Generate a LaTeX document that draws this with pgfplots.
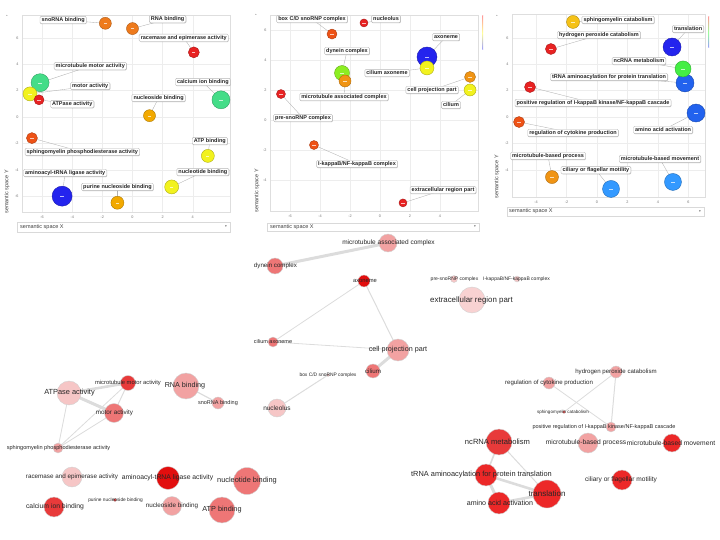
\documentclass[border=0pt]{standalone}
\usepackage{pgfplots}
\pgfplotsset{compat=1.18}
\usepackage{fontspec}
\setmainfont{Liberation Sans}
\newfontfamily\djv{DejaVu Sans}
\usetikzlibrary{shadows}

% bubble colours (top panels)
\definecolor{bOrange}{HTML}{EE7A1C}
\definecolor{bRed}{HTML}{E82222}
\definecolor{bGreen}{HTML}{44DD88}
\definecolor{bYellow}{HTML}{F2F21E}
\definecolor{bAmber}{HTML}{F2A900}
\definecolor{bOrRed}{HTML}{EE5216}
\definecolor{bBlue}{HTML}{2424EE}
\definecolor{bLime}{HTML}{8CEE22}
\definecolor{bOrange2}{HTML}{F09414}
\definecolor{bGreen2}{HTML}{44EE44}
\definecolor{bBlue2}{HTML}{2262EE}
\definecolor{bSky}{HTML}{3399FF}
\definecolor{bGold}{HTML}{F5C218}
% network colours
\definecolor{nLight}{HTML}{F6C6C6}
\definecolor{nVLight}{HTML}{F8D2D2}
\definecolor{nPink}{HTML}{F2A2A2}
\definecolor{nSalmon}{HTML}{EE7676}
\definecolor{nRed}{HTML}{E83A3A}
\definecolor{nDeep}{HTML}{E20E0E}
\definecolor{nRed2}{HTML}{EC2828}
\definecolor{edgegray}{HTML}{DCDCDC}

\pgfplotsset{rev/.style={scale only axis, anchor=north west, clip=false,
  axis line style={draw=black!13, line width=0.5pt},
  grid=major, major grid style={draw=black!7, line width=0.4pt},
  major tick length=0pt, tick style={draw=none},
  ticklabel style={font=\fontsize{3.8}{4}\selectfont, text=black!55},
  /pgf/number format/assume math mode=true},
  canvas/.style={at={(0pt,0pt)}, anchor=north west, scale only axis, width=720pt, height=540pt,
  xmin=0, xmax=720, ymin=-540, ymax=0, hide axis, clip=false},
  p1/.style={at={(22pt,-15pt)}, width=208pt, height=197pt, xmin=-7.33, xmax=6.47, ymin=-7.2, ymax=7.73},
  p2/.style={at={(270pt,-15pt)}, width=208pt, height=196pt, xmin=-7.33, xmax=6.53, ymin=-6.07, ymax=7.0},
  p3/.style={at={(512pt,-14pt)}, width=193pt, height=183pt, xmin=-5.57, xmax=7.08, ymin=-6.06, ymax=7.8},
  over/.style={scale only axis, anchor=north west, clip=false, hide axis}}

\tikzset{lbl/.style={draw=black!28, fill=white, rounded corners=1.2pt,
  inner xsep=1.6pt, inner ysep=1.1pt, text height=4.1pt, text depth=1.1pt,
  font=\fontsize{5.5}{6}\selectfont\bfseries, text=black!85, line width=0.4pt,
  drop shadow={shadow xshift=0.4pt, shadow yshift=-0.5pt, opacity=0.25, fill=black}}}

% bubble: x, y, radius, colour
\newcommand{\bub}[4]{%
  \addplot[only marks, mark=*, mark size=#3, mark options={fill=#4, draw=#4!72!black, line width=0.4pt}] coordinates {(#1,#2)};
  \addplot[only marks, mark=-, mark size=1.6, mark options={draw=white!70!#4, line width=0.3pt}] coordinates {(#1,#2)};}
% leader line: bubble x,y -> label x,y
\newcommand{\lead}[4]{\draw[black!30, line width=0.35pt] (axis cs:#1,#2) -- (axis cs:#3,#4);}
\newcommand{\lab}[3]{\node[lbl] at (axis cs:#1,#2) {#3};}

% network: px, py, radius, colour
\newcommand{\nnode}[4]{\addplot[only marks, mark=*, mark size=#3, mark options={fill=#4, draw=white!82!black, line width=0.4pt}] coordinates {(#1,-#2)};}
\newcommand{\nedge}[5]{\addplot[draw=edgegray, line width=#5pt, no marks] coordinates {(#1,-#2) (#3,-#4)};}
\newcommand{\nlab}[4]{\node[font=\fontsize{#4}{#4}\selectfont, text=black!85, inner sep=0pt] at (axis cs:#1,-#2) {#3};}

\begin{document}
\begin{tikzpicture}
\useasboundingbox (0,0) rectangle (720pt,-540pt);

% ---------------- canvas: networks (edges, nodes) + panel decorations ----------------
\begin{axis}[canvas]
\draw[black!15, fill=white, line width=0.4pt] (axis cs:17,-222) rectangle (axis cs:230,-232);
\node[anchor=west, font=\fontsize{5.5}{6}\selectfont, text=black!75, inner sep=0pt] at (axis cs:20,-227) {semantic space X};
\node[font=\djv\fontsize{3.5}{4}\selectfont, text=black!60, inner sep=0pt] at (axis cs:226,-227) {▾};
\node[rotate=90, font=\fontsize{5.5}{6}\selectfont, text=black!75, inner sep=0pt] at (axis cs:7,-192) {semantic space Y};
\draw[black!15, fill=white, line width=0.4pt] (axis cs:267,-223) rectangle (axis cs:479,-231);
\node[anchor=west, font=\fontsize{5.5}{6}\selectfont, text=black!75, inner sep=0pt] at (axis cs:270,-227) {semantic space X};
\node[font=\djv\fontsize{3.5}{4}\selectfont, text=black!60, inner sep=0pt] at (axis cs:475,-227) {▾};
\node[rotate=90, font=\fontsize{5.5}{6}\selectfont, text=black!75, inner sep=0pt] at (axis cs:257,-191) {semantic space Y};
\draw[black!15, fill=white, line width=0.4pt] (axis cs:507,-207) rectangle (axis cs:704,-216);
\node[anchor=west, font=\fontsize{5.5}{6}\selectfont, text=black!75, inner sep=0pt] at (axis cs:509,-211.5) {semantic space X};
\node[font=\djv\fontsize{3.5}{4}\selectfont, text=black!60, inner sep=0pt] at (axis cs:700,-211.5) {▾};
\node[rotate=90, font=\fontsize{5.5}{6}\selectfont, text=black!75, inner sep=0pt] at (axis cs:497,-177) {semantic space Y};
\node[font=\djv\fontsize{2.5}{3}\selectfont, text=black!50, inner sep=0pt] at (axis cs:7,-16) {▴};
\node[font=\djv\fontsize{2.5}{3}\selectfont, text=black!50, inner sep=0pt] at (axis cs:256,-15) {▴};
\node[font=\djv\fontsize{2.5}{3}\selectfont, text=black!50, inner sep=0pt] at (axis cs:497,-16) {▴};
\shade[top color=red!40, bottom color=blue!40, middle color=yellow!40] (axis cs:482.3,-16) rectangle (axis cs:483.1,-50);
\shade[top color=red!40, bottom color=blue!40, middle color=green!40] (axis cs:708.3,-17) rectangle (axis cs:709.1,-48);

% ---- network 1 (molecular function) ----
\nedge{69}{393}{128}{383}{2.6}
\nedge{69}{393}{114}{413}{3}
\nedge{128}{383}{114}{413}{1}
\nedge{69}{393}{58}{448}{0.8}
\nedge{114}{413}{58}{448}{0.8}
\nedge{128}{383}{58}{448}{0.8}
\nedge{186}{386}{218}{403}{1.2}
% ---- network 2 (cellular component) ----
\nedge{275}{266}{388}{243}{3}
\nedge{364}{281}{273}{342}{0.8}
\nedge{364}{281}{398}{350}{1}
\nedge{273}{342}{398}{350}{0.8}
\nedge{398}{350}{373}{371}{3}
\nedge{328}{375}{277}{408}{1}
% ---- network 3 (biological process) ----
\nedge{616}{372}{611}{427}{1}
\nedge{616}{372}{564}{412}{0.8}
\nedge{549}{383}{611}{427}{0.8}
\nedge{499}{442}{486}{475}{1.6}
\nedge{499}{442}{547}{494}{1}
\nedge{486}{475}{547}{494}{2.6}
\nedge{486}{475}{499}{503}{3}
\nedge{499}{503}{547}{494}{2.6}

% nodes network 1
\nnode{128}{383}{7.5}{nRed}
\nnode{69}{393}{12}{nLight}
\nnode{186}{386}{13}{nPink}
\nnode{218}{403}{6}{nPink}
\nnode{114}{413}{9.5}{nSalmon}
\nnode{58}{448}{5}{nPink}
\nnode{72}{477}{10}{nLight}
\nnode{168}{478}{11.5}{nDeep}
\nnode{247}{481}{13.5}{nSalmon}
\nnode{54}{507}{10}{nRed}
\nnode{115}{500}{1.8}{nRed}
\nnode{172}{506}{9.5}{nPink}
\nnode{222}{510}{13}{nSalmon}
% nodes network 2
\nnode{388}{243}{9}{nPink}
\nnode{275}{266}{8}{nSalmon}
\nnode{364}{281}{6}{nDeep}
\nnode{454}{279}{3.5}{nLight}
\nnode{517}{279}{3}{nLight}
\nnode{472}{300}{13}{nVLight}
\nnode{273}{342}{5}{nSalmon}
\nnode{398}{350}{11}{nPink}
\nnode{373}{371}{7}{nSalmon}
\nnode{328}{375}{1.5}{nPink}
\nnode{277}{408}{9}{nLight}
% nodes network 3
\nnode{616}{372}{6}{nPink}
\nnode{549}{383}{6}{nPink}
\nnode{564}{412}{1.6}{nRed}
\nnode{611}{427}{5}{nPink}
\nnode{499}{442}{13}{nRed}
\nnode{588}{443}{10}{nPink}
\nnode{672}{443}{9}{nRed2}
\nnode{486}{475}{11}{nRed2}
\nnode{622}{480}{10}{nRed2}
\nnode{547}{494}{14}{nRed2}
\nnode{499}{503}{11}{nRed2}
\end{axis}

% ---------------- canvas overlay: network labels ----------------
\begin{axis}[canvas]
\addplot[draw=none, no marks] coordinates {(0,0)};
% labels network 1
\nlab{128}{383}{microtubule motor activity}{5.8}
\nlab{69.5}{393}{ATPase activity}{7.4}
\nlab{185}{386}{RNA binding}{7.2}
\nlab{218}{403}{snoRNA binding}{5.5}
\nlab{114.5}{413}{motor activity}{6.3}
\nlab{58.5}{448}{sphingomyelin phosphodiesterase activity}{5.6}
\nlab{72}{477}{racemase and epimerase activity}{6.3}
\nlab{167.5}{478}{aminoacyl-tRNA ligase activity}{6.8}
\nlab{247}{481}{nucleotide binding}{7.4}
\nlab{55}{507}{calcium ion binding}{6.8}
\nlab{115.5}{500}{purine nucleoside binding}{4.8}
\nlab{172}{506}{nucleoside binding}{6.3}
\nlab{222}{510}{ATP binding}{7.3}
% labels network 2
\nlab{388.5}{243}{microtubule associated complex}{6.5}
\nlab{275.5}{266}{dynein complex}{6.2}
\nlab{365}{281}{axoneme}{5.8}
\nlab{454.5}{279}{pre-snoRNP complex}{5.0}
\nlab{516.5}{279}{I-kappaB/NF-kappaB complex}{5.0}
\nlab{471.5}{300}{extracellular region part}{7.9}
\nlab{273}{342}{cilium axoneme}{5.5}
\nlab{398}{350}{cell projection part}{7.2}
\nlab{373}{371}{cilium}{6.2}
\nlab{328}{375}{box C/D snoRNP complex}{4.9}
\nlab{277}{408}{nucleolus}{6.5}
% labels network 3
\nlab{616}{372}{hydrogen peroxide catabolism}{6.1}
\nlab{549}{383}{regulation of cytokine production}{6.1}
\nlab{563}{412}{sphingomyelin catabolism}{4.5}
\nlab{604}{427}{positive regulation of I-kappaB kinase/NF-kappaB cascade}{5.5}
\nlab{497.5}{442}{ncRNA metabolism}{7.6}
\nlab{586}{443}{microtubule-based process}{6.7}
\nlab{671}{443}{microtubule-based movement}{6.7}
\nlab{481.5}{475}{tRNA aminoacylation for protein translation}{7.4}
\nlab{621}{480}{ciliary or flagellar motility}{6.6}
\nlab{547}{494}{translation}{8.0}
\nlab{500}{503}{amino acid activation}{7.1}
\end{axis}

% ---------------- panel 1: molecular function ----------------
\begin{axis}[rev, p1, xtick={-6,-4,...,4}, ytick={-6,-4,...,6}]
\lead{-1.8}{7.1}{-4.6}{7.35}
\lead{0}{6.7}{2.33}{7.42}
\lead{4.07}{4.9}{3.4}{6.0}
\lead{-6.13}{2.6}{-2.8}{3.86}
\lead{-6.8}{1.75}{-2.8}{2.35}
\lead{-6.2}{1.3}{-4.0}{0.98}
\lead{5.87}{1.3}{4.67}{2.65}
\lead{1.13}{0.1}{1.73}{1.44}
\lead{-6.67}{-1.6}{-3.33}{-2.65}
\lead{5.0}{-2.95}{5.13}{-1.82}
\lead{-4.67}{-6.0}{-4.47}{-4.24}
\lead{2.6}{-5.3}{4.67}{-4.17}
\lead{-1.0}{-6.5}{-1.0}{-5.3}
\bub{-1.8}{7.1}{6}{bOrange}
\bub{0}{6.7}{6}{bOrange}
\bub{4.07}{4.9}{5.5}{bRed}
\bub{-6.13}{2.6}{9}{bGreen}
\bub{-6.8}{1.75}{7}{bYellow}
\bub{-6.2}{1.3}{5}{bRed}
\bub{5.87}{1.3}{9}{bGreen}
\bub{1.13}{0.1}{6}{bAmber}
\bub{-6.67}{-1.6}{5.5}{bOrRed}
\bub{5.0}{-2.95}{6.5}{bYellow}
\bub{-4.67}{-6.0}{10}{bBlue}
\bub{2.6}{-5.3}{7}{bYellow}
\bub{-1.0}{-6.5}{6.5}{bAmber}
\end{axis}
\begin{axis}[over, p1]
\addplot[draw=none, no marks] coordinates {(0,0)};
\lab{-4.6}{7.35}{snoRNA binding}
\lab{2.33}{7.42}{RNA binding}
\lab{3.4}{6.0}{racemase and epimerase activity}
\lab{-2.8}{3.86}{microtubule motor activity}
\lab{-2.8}{2.35}{motor activity}
\lab{-4.0}{0.98}{ATPase activity}
\lab{4.67}{2.65}{calcium ion binding}
\lab{1.73}{1.44}{nucleoside binding}
\lab{-3.33}{-2.65}{sphingomyelin phosphodiesterase activity}
\lab{5.13}{-1.82}{ATP binding}
\lab{-4.47}{-4.24}{aminoacyl-tRNA ligase activity}
\lab{4.67}{-4.17}{nucleotide binding}
\lab{-1.0}{-5.3}{purine nucleoside binding}
\end{axis}

% ---------------- panel 2: cellular component ----------------
\begin{axis}[rev, p2, xtick={-6,-4,...,4}, ytick={-4,-2,...,6}]
\lead{-3.2}{5.73}{-4.53}{6.73}
\lead{-1.07}{6.47}{0.4}{6.73}
\lead{3.13}{4.2}{4.4}{5.53}
\lead{-2.53}{3.13}{-2.2}{4.6}
\lead{-2.33}{2.6}{-2.4}{1.53}
\lead{3.13}{3.47}{0.47}{3.13}
\lead{6.0}{2.87}{3.47}{2.0}
\lead{6.0}{2.0}{4.73}{1.0}
\lead{-6.6}{1.73}{-5.13}{0.13}
\lead{-4.4}{-1.67}{-1.53}{-2.93}
\lead{1.53}{-5.53}{4.2}{-4.67}
\bub{-3.2}{5.73}{5}{bOrRed}
\bub{-1.07}{6.47}{4}{bRed}
\bub{3.13}{4.2}{10}{bBlue}
\bub{3.13}{3.47}{7}{bYellow}
\bub{-2.53}{3.13}{7.5}{bLime}
\bub{-2.33}{2.6}{6}{bOrange2}
\bub{6.0}{2.87}{5.5}{bOrange2}
\bub{6.0}{2.0}{6}{bYellow}
\bub{-6.6}{1.73}{4.5}{bRed}
\bub{-4.4}{-1.67}{4.5}{bOrRed}
\bub{1.53}{-5.53}{4}{bRed}
\end{axis}
\begin{axis}[over, p2]
\addplot[draw=none, no marks] coordinates {(0,0)};
\lab{-4.53}{6.73}{box C/D snoRNP complex}
\lab{0.4}{6.73}{nucleolus}
\lab{4.4}{5.53}{axoneme}
\lab{-2.2}{4.6}{dynein complex}
\lab{-2.4}{1.53}{microtubule associated complex}
\lab{0.47}{3.13}{cilium axoneme}
\lab{3.47}{2.0}{cell projection part}
\lab{4.73}{1.0}{cilium}
\lab{-5.13}{0.13}{pre-snoRNP complex}
\lab{-1.53}{-2.93}{I-kappaB/NF-kappaB complex}
\lab{4.2}{-4.67}{extracellular region part}
\end{axis}

% ---------------- panel 3: biological process ----------------
\begin{axis}[rev, p3, xtick={-4,-2,...,6}, ytick={-4,-2,...,6}]
\lead{-1.57}{7.2}{1.38}{7.35}
\lead{-3.02}{5.15}{0.13}{6.21}
\lead{4.92}{5.3}{5.97}{6.67}
\lead{5.64}{3.64}{2.75}{4.24}
\lead{5.77}{2.58}{0.79}{3.03}
\lead{-4.39}{2.27}{-0.26}{1.06}
\lead{6.49}{0.3}{4.33}{-0.98}
\lead{-5.11}{-0.38}{-1.57}{-1.21}
\lead{-2.95}{-4.55}{-3.21}{-2.95}
\lead{0.92}{-5.45}{-0.07}{-4.02}
\lead{4.98}{-4.92}{4.13}{-3.18}
\bub{-1.57}{7.2}{6.5}{bGold}
\bub{-3.02}{5.15}{5.5}{bRed}
\bub{4.92}{5.3}{9}{bBlue}
\bub{5.77}{2.58}{9}{bBlue2}
\bub{5.64}{3.64}{8}{bGreen2}
\bub{-4.39}{2.27}{5.5}{bRed}
\bub{6.49}{0.3}{9}{bBlue2}
\bub{-5.11}{-0.38}{5.5}{bOrRed}
\bub{-2.95}{-4.55}{6.5}{bOrange2}
\bub{0.92}{-5.45}{8.5}{bSky}
\bub{4.98}{-4.92}{8.5}{bSky}
\end{axis}
\begin{axis}[over, p3]
\addplot[draw=none, no marks] coordinates {(0,0)};
\lab{1.38}{7.35}{sphingomyelin catabolism}
\lab{0.13}{6.21}{hydrogen peroxide catabolism}
\lab{5.97}{6.67}{translation}
\lab{2.75}{4.24}{ncRNA metabolism}
\lab{0.79}{3.03}{tRNA aminoacylation for protein translation}
\lab{-0.26}{1.06}{positive regulation of I-kappaB kinase/NF-kappaB cascade}
\lab{4.33}{-0.98}{amino acid activation}
\lab{-1.57}{-1.21}{regulation of cytokine production}
\lab{-3.21}{-2.95}{microtubule-based process}
\lab{-0.07}{-4.02}{ciliary or flagellar motility}
\lab{4.13}{-3.18}{microtubule-based movement}
\end{axis}
\end{tikzpicture}
\end{document}
